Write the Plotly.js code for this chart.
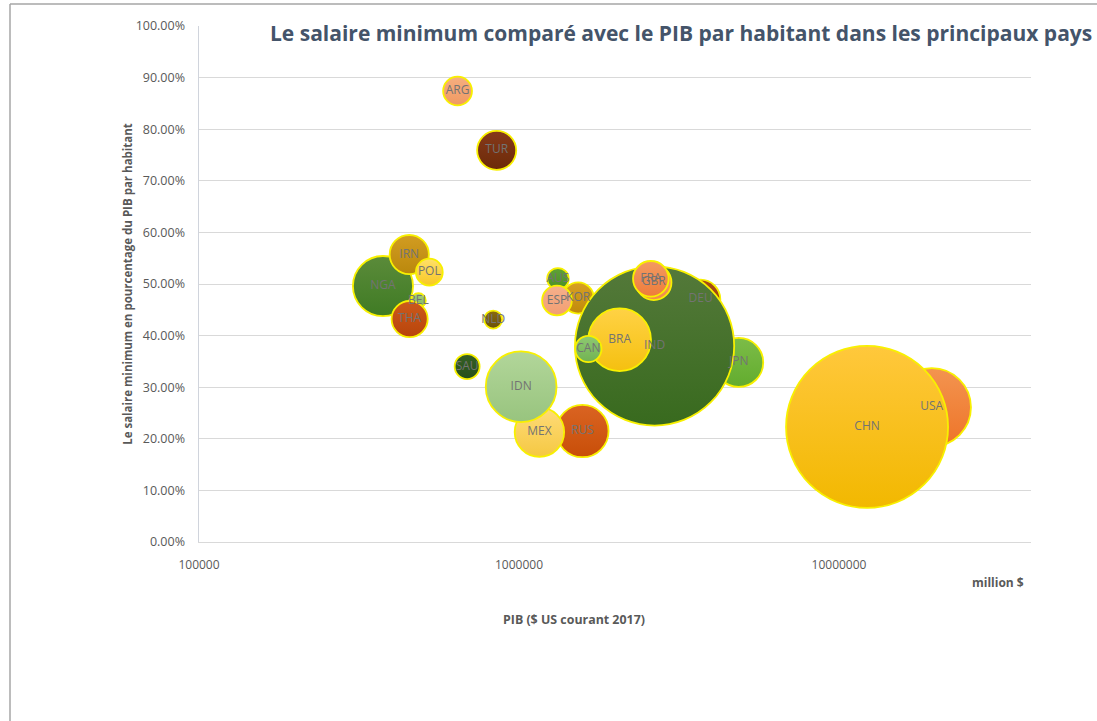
<!DOCTYPE html>
<html>
<head>
<meta charset="utf-8">
<script src="https://cdn.plot.ly/plotly-3.0.1.min.js"></script>
<style>
html,body{margin:0;padding:0;background:#ffffff;}
#chart{width:1097px;height:721px;}
</style>
</head>
<body>
<div id="chart"></div>
<script>
// Country codes (array order = drawing order, later on top)
const countries = ["BEL","NGA","THA","IRN","POL","ARG","TUR","NLD","SAU","AUS","KOR","ESP","USA","CHN","DEU","JPN","RUS","MEX","IDN","IND","BRA","CAN","GBR","FRA"];
// PIB ($ US courant 2017), million $
const gdpMillionUSD = [485000,375745,455221,454000,524510,642696,851549,830573,688586,1323421,1530751,1314314,19485394,12237700,3693204,4859951,1578417,1158229,1015539,2652551,2062831,1647120,2637866,2582501];
// Salaire minimum en pourcentage du PIB par habitant
const minWageShare = [0.468,0.496,0.432,0.557,0.523,0.874,0.759,0.431,0.340,0.510,0.473,0.468,0.261,0.223,0.470,0.348,0.215,0.213,0.301,0.380,0.392,0.374,0.503,0.510];
// Bubble size: population (millions)
const population = [11.4,190.9,69.0,81.2,38.0,44.0,80.7,17.1,32.9,24.6,51.5,46.6,325.7,1386.4,82.7,126.8,144.5,129.2,264.6,1339.2,207.8,36.5,66.0,67.1];
const xTickVals = [100000,1000000,10000000];
const xTickText = ["100000","1000000","10000000"];

// Styles
const fillTop = ["#A3CD7C","#5B8B3A","#CC5A1C","#D29C22","#FFE06A","#F6AE80","#86391A","#8A6A12","#365F25","#5FA236","#D8A024","#F6B08C","#F39450","#FFC83C","#A94A18","#7CBC48","#DA6422","#FFDC7A","#B2D69A","#54793A","#FFD245","#8ECA72","#F4A272","#F39A62"];
const fillBottom = ["#84BA5C","#3F7B24","#B8440A","#BA880C","#F8C824","#F09A62","#6C2A08","#6A5008","#255019","#4A8E26","#C08A0A","#F29E72","#EE7428","#F2B800","#8A3A0A","#62AC2E","#C84E08","#F5C842","#98C47E","#386A1E","#F5C010","#72B252","#F08A4A","#EE7C3A"];

const sizeRef = 2 * Math.max(...population) / (162 * 162);

const trace = {
  type: "scatter",
  mode: "markers+text",
  x: gdpMillionUSD,
  y: minWageShare,
  text: countries,
  textposition: "middle center",
  textfont: {family: "Open Sans, sans-serif", size: 12, color: "#737373"},
  hoverinfo: "text+x+y",
  marker: {
    size: population,
    sizemode: "area",
    sizeref: sizeRef,
    color: fillTop,
    opacity: 1,
    gradient: {type: "vertical", color: fillBottom},
    line: {color: "#F8F000", width: 1.8}
  },
  showlegend: false
};

// plot area in px: x 199..1031, y 26..542
const L = 199, R = 1097 - 1031, T = 26, B = 721 - 542;
const pw = 832, ph = 516;
const px = v => (v - L) / pw;
const py = v => (542 - v) / ph;

const layout = {
  width: 1097,
  height: 721,
  margin: {l: L, r: R, t: T, b: B, pad: 0},
  paper_bgcolor: "#ffffff",
  plot_bgcolor: "#ffffff",
  font: {family: "Open Sans, sans-serif", color: "#595959"},
  title: {
    text: "<b>Le salaire minimum comparé avec le PIB par habitant dans les principaux pays</b>",
    font: {family: "Open Sans, sans-serif", size: 21, color: "#44546A"},
    x: 270 / 1097, xanchor: "left", xref: "container",
    y: 1 - 34 / 721, yanchor: "middle", yref: "container"
  },
  xaxis: {
    type: "log",
    range: [5, 5 + 832 / 320],
    tickvals: xTickVals,
    ticktext: xTickText,
    showgrid: false,
    zeroline: false,
    showline: true,
    linecolor: "#D9D9D9",
    linewidth: 1,
    ticks: "",
    ticklabelstandoff: 12,
    tickfont: {size: 12, color: "#595959"},
    fixedrange: true
  },
  yaxis: {
    range: [0, 1],
    dtick: 0.1,
    tick0: 0,
    tickformat: ".2%",
    showgrid: true,
    gridcolor: "#D9D9D9",
    gridwidth: 1,
    zeroline: false,
    showline: true,
    linecolor: "#D0D4DC",
    linewidth: 1.5,
    ticks: "",
    ticklabelstandoff: 10,
    tickfont: {size: 12.5, color: "#595959"},
    title: {
      text: "<b>Le salaire minimum en pourcentage du PIB par habitant</b>",
      font: {size: 11.5, color: "#595959"},
      standoff: 0
    },
    fixedrange: true
  },
  annotations: [
    {text: "<b>PIB ($ US courant 2017)</b>", xref: "paper", yref: "paper",
     x: px(574), y: py(619), xanchor: "center", yanchor: "middle", showarrow: false,
     font: {size: 12.4, color: "#595959"}},
    {text: "<b>million $</b>", xref: "paper", yref: "paper",
     x: px(1026), y: py(582), xanchor: "right", yanchor: "middle", showarrow: false,
     font: {size: 12, color: "#595959"}}
  ],
  shapes: [
    {type: "line", xref: "paper", yref: "paper", x0: px(10), x1: px(1100), y0: py(4), y1: py(4),
     line: {color: "#A6A6A6", width: 1.5}},
    {type: "line", xref: "paper", yref: "paper", x0: px(10), x1: px(10), y0: py(4), y1: py(724),
     line: {color: "#A6A6A6", width: 1.5}}
  ]
};

Plotly.newPlot("chart", [trace], layout, {displayModeBar: false, staticPlot: true});
</script>
</body>
</html>
